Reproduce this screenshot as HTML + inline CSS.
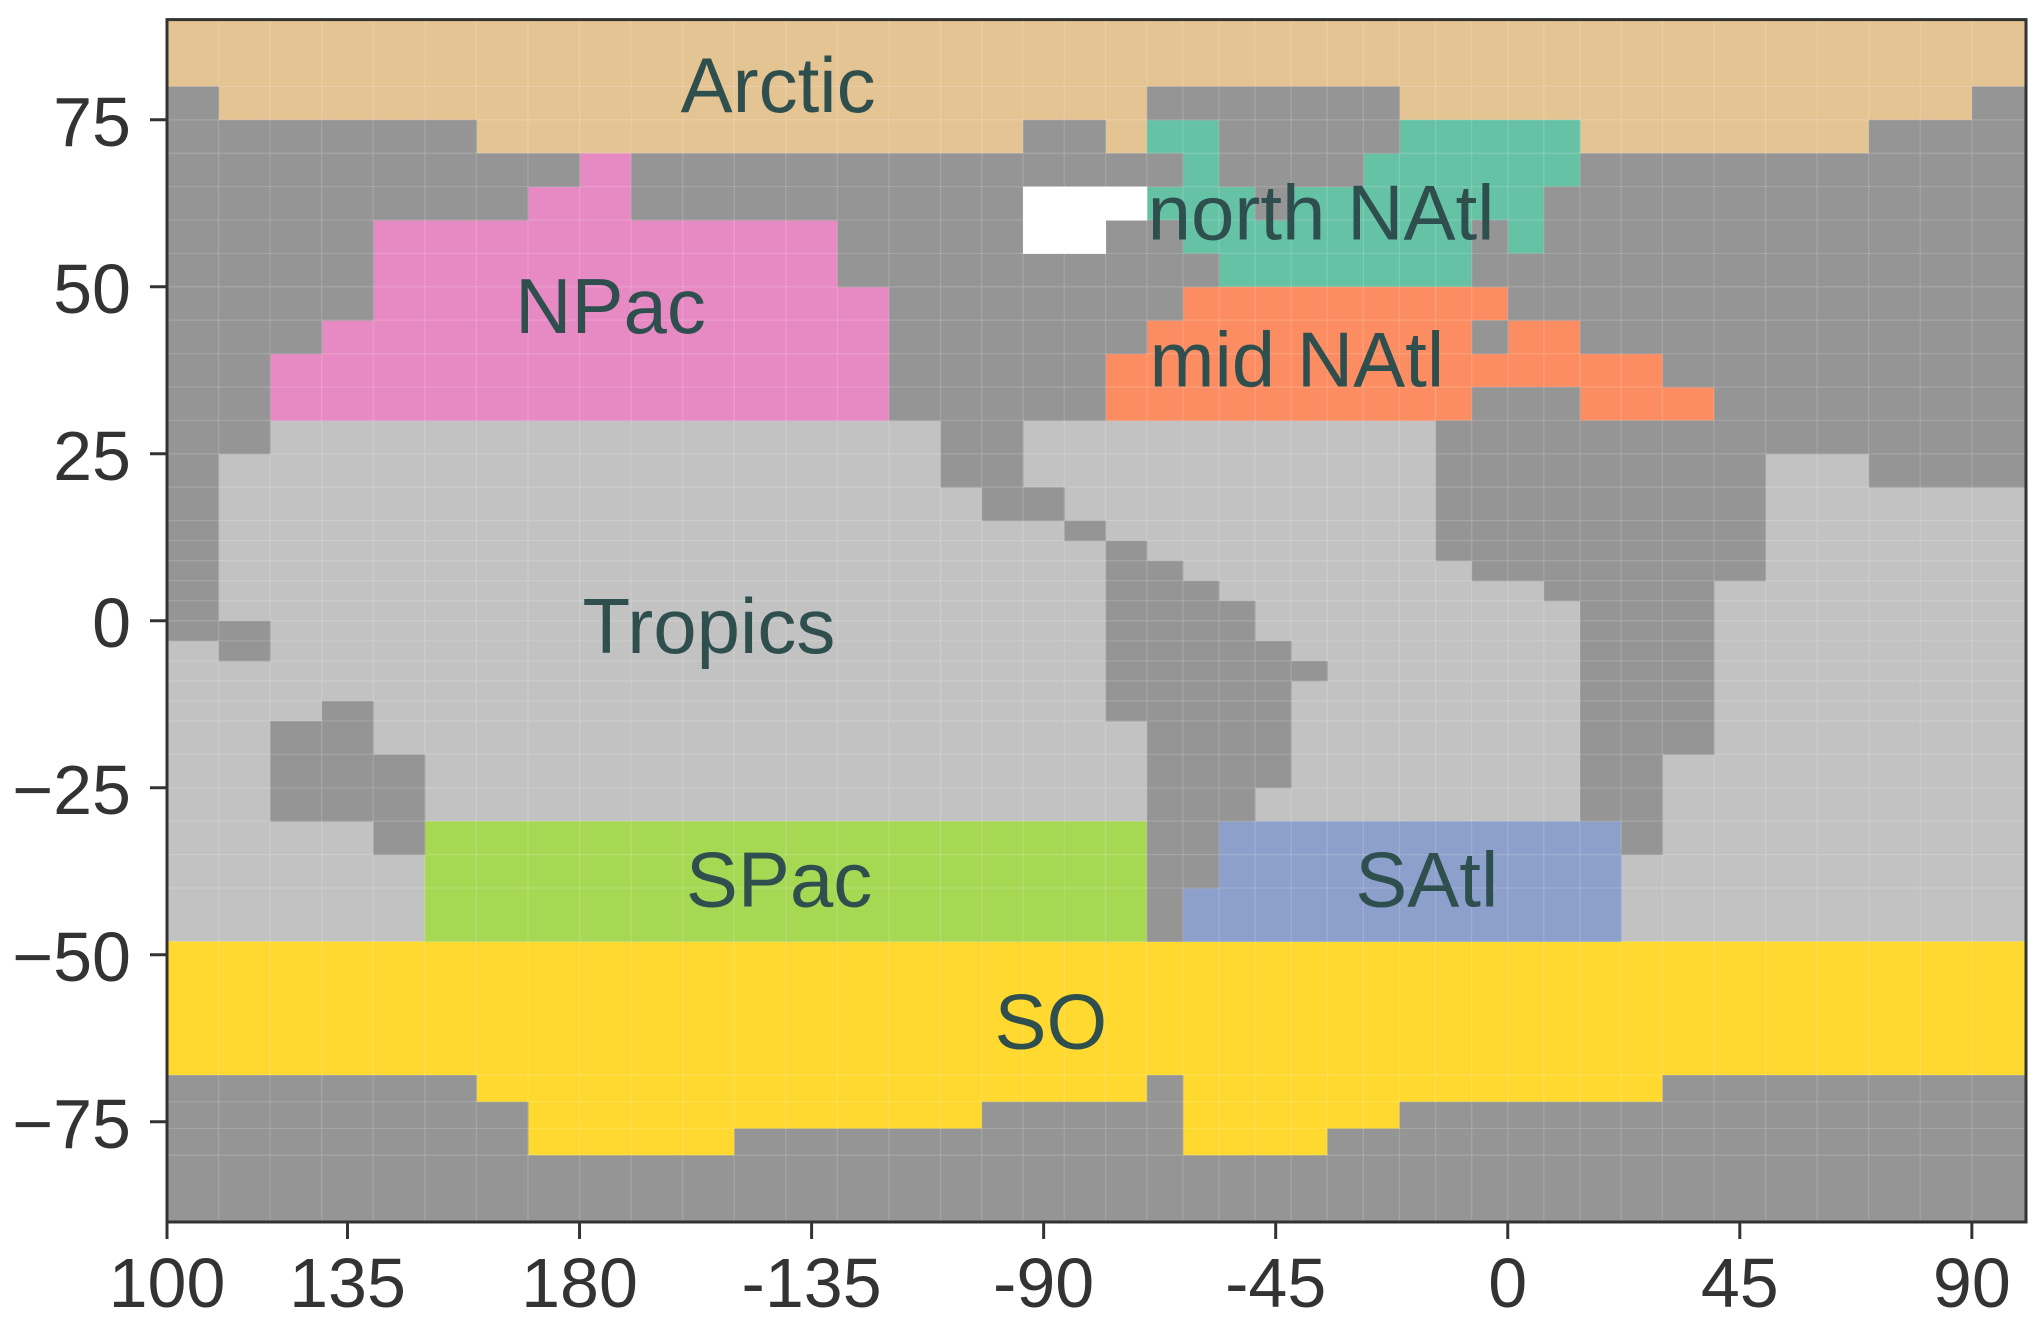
<!DOCTYPE html>
<html><head><meta charset="utf-8"><style>
html,body{margin:0;padding:0;background:#fff;}
svg{display:block;font-family:"Liberation Sans",sans-serif;}
</style></head><body>
<svg id="chart" width="2043" height="1325" viewBox="0 0 2043 1325" xmlns="http://www.w3.org/2000/svg">
<g id="cells"></g>
<g id="grid"></g>
<g id="labels"></g>
<g id="axes"></g>
</svg>
<script>
const xTickVals = [100,135,180,225,270,315,360,405,450];
const xTickLabels = ['100','135','180','-135','-90','-45','0','45','90'];
const yTickVals = [75,50,25,0,-25,-50,-75];
const yTickLabels = ['75','50','25','0','\u221225','\u221250','\u221275'];
const tropicsCells = [[100,460.5,-90,90]];
const arcticCells = [[100,460.5,70,90]];
const soCells = [[100,460.5,-90,-48]];
const npacCells = [[120,130,30,40],[130,140,30,45],[140,230,30,60],[230,240,30,50],[170,180,60,65],[180,190,60,70]];
const northNatlCells = [[290,304,70,75],[297,304,65,70],[290,367,60,65],[297,353,55,60],[360,367,55,60],[304,353,50,55],[332,374,65,70],[339,374,70,75]];
const midNatlCells = [[297,360,45,50],[290,353,40,45],[360,374,40,45],[282,390,35,40],[282,353,30,35],[374,400,30,35]];
const spacCells = [[150,290,-48,-30]];
const satlCells = [[304,382,-40,-30],[297,382,-48,-40]];
const landCells = [
[100,110,-3,80],[110,120,25,75],[120,130,40,75],[130,140,45,75],[140,160,60,75],[160,170,60,70],[170,180,65,70],
[190,230,60,70],[230,240,50,70],[240,250,30,70],[250,258,20,70],[258,266,15,70],[266,282,30,75],[282,290,40,70],
[266,274,15,20],[274,282,12,15],
[290,339,75,80],[304,339,70,75],[304,332,65,70],[290,297,65,70],[290,297,55,60],[290,304,50,55],[290,297,45,50],
[311,318,60,65],[353,360,50,60],[360,367,45,55],[367,374,45,65],[353,360,40,45],
[374,382,40,70],[382,390,40,70],[390,400,35,70],[400,430,25,70],[430,450,20,75],[450,460.5,20,80],
[346,353,9,30],[353,367,6,35],[367,374,3,35],[374,382,-30,30],[382,390,-35,30],[390,400,-20,30],[400,410,6,30],
[110,120,-6,0],[120,130,-30,-15],[130,140,-30,-12],[140,150,-35,-20],
[282,290,-15,12],[290,297,-48,9],[297,304,-40,6],[304,311,-30,3],[311,318,-25,-3],[318,325,-9,-6],
[100,160,-90,-68],[160,170,-90,-72],[170,210,-90,-80],[210,258,-90,-76],[258,290,-90,-72],[290,297,-90,-68],
[297,325,-90,-80],[325,339,-90,-76],[339,390,-90,-72],[390,460.5,-90,-68]];
const missingCells = [[266,290,60,65],[266,282,55,60]];
const lonEdges = [110,120,130,140,150,160,170,180,190,200,210,220,230,240,250,258,266,274,282,290,297,304,311,318,325,332,339,346,353,360,367,374,382,390,400,410,420,430,440,450];
const latEdges = [80,75,70,65,60,55,50,45,40,35,30,25,20,15,12,9,6,3,0,-3,-6,-9,-12,-15,-20,-25,-30,-35,-40,-48,-68,-72,-76,-80];
const regionNames = ['Arctic','NPac','north NAtl','mid NAtl','Tropics','SPac','SAtl','SO'];
const regionLabelLon = [218.5,186,323.8,319.1,205.1,218.7,344.3,271.4];
const regionLabelLat = [76.2,43.1,57.1,35.1,-4.8,-42.8,-42.8,-64];

const L=167,R=2026,T=19.6,B=1222;
const xMin=100,xMax=460.5,yMin=-90,yMax=90;
const X=v=>L+(v-xMin)/(xMax-xMin)*(R-L);
const Y=v=>B-(v-yMin)/(yMax-yMin)*(B-T);
const NS='http://www.w3.org/2000/svg';
function mk(tag,attrs,parent){const e=document.createElementNS(NS,tag);for(const k in attrs)e.setAttribute(k,attrs[k]);parent.appendChild(e);return e;}
const cells=document.getElementById('cells');
function draw(list,color,name){
  list.forEach(c=>{
    const r=mk('rect',{x:X(c[0]),y:Y(c[3]),width:X(c[1])-X(c[0])+0.5,height:Y(c[2])-Y(c[3])+0.5,fill:color},cells);
    
    
  });
}
draw(tropicsCells,'#c2c2c2','tropics-cell');
draw(arcticCells,'#e5c494','arctic-cell');
draw(soCells,'#ffd92f','so-cell');
draw(npacCells,'#e78ac3','npac-cell');
draw(northNatlCells,'#66c2a5','north-natl-cell');
draw(midNatlCells,'#fc8d62','mid-natl-cell');
draw(spacCells,'#a6d854','spac-cell');
draw(satlCells,'#8da0cb','satl-cell');
draw(landCells,'#959595','land-cell');
draw(missingCells,'#ffffff','missing-cell');
const grid=document.getElementById('grid');
lonEdges.forEach(v=>{const l=mk('line',{x1:X(v),x2:X(v),y1:T,y2:B,stroke:'#fff','stroke-opacity':0.15,'stroke-width':1.3},grid);

});
latEdges.forEach(v=>{const l=mk('line',{x1:L,x2:R,y1:Y(v),y2:Y(v),stroke:'#fff','stroke-opacity':0.15,'stroke-width':1.3},grid);

});
const labels=document.getElementById('labels');
regionNames.forEach((n,i)=>{const t=mk('text',{x:X(regionLabelLon[i]),y:Y(regionLabelLat[i]),'text-anchor':'middle','font-size':78,fill:'#2f4f4f'},labels);
t.textContent=n;

});
const axes=document.getElementById('axes');
const fr=mk('rect',{x:L,y:T,width:R-L,height:B-T,fill:'none',stroke:'#333','stroke-width':3},axes);


xTickVals.forEach((v,i)=>{
  const l=mk('line',{x1:X(v),x2:X(v),y1:B,y2:B+17,stroke:'#333','stroke-width':3},axes);
  
  
  const t=mk('text',{x:X(v),y:1307,'text-anchor':'middle','font-size':70,fill:'#333'},axes);
  t.textContent=xTickLabels[i];
  
  
});
yTickVals.forEach((v,i)=>{
  const l=mk('line',{x1:L-17,x2:L,y1:Y(v),y2:Y(v),stroke:'#333','stroke-width':3},axes);
  
  
  const t=mk('text',{x:131,y:Y(v)+26,'text-anchor':'end','font-size':70,fill:'#333'},axes);
  t.textContent=yTickLabels[i];
  
  
});
</script>
</body></html>
